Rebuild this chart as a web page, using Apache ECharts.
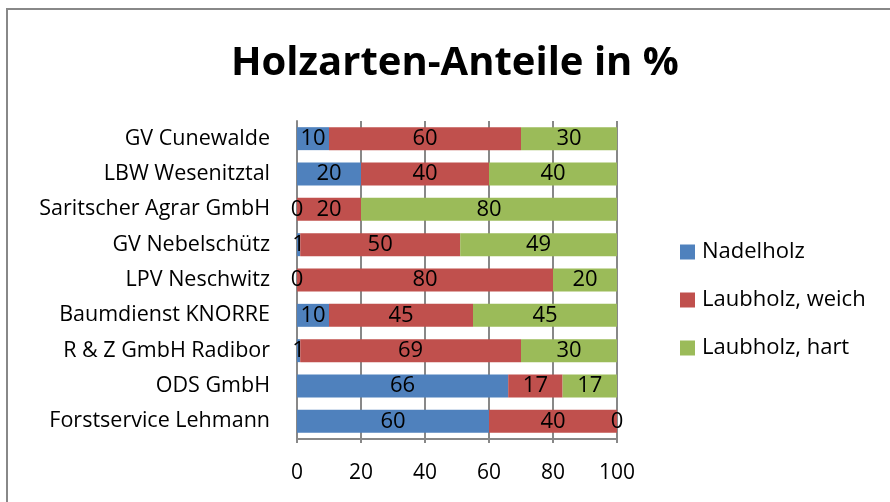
<!DOCTYPE html>
<html lang="de">
<head>
  <meta charset="UTF-8">
  <title>Holzarten-Anteile in %</title>
  <script src="https://cdn.jsdelivr.net/npm/echarts@6/dist/echarts.min.js"></script>
  <style>
    html, body { margin: 0; padding: 0; background: #fff; }
    #target { width: 890px; height: 502px; }
  </style>
</head>
<body>
  <div id="target"></div>
  <script>
    // top to bottom, as in the picture
    const categories = [
      'GV Cunewalde', 'LBW Wesenitztal', 'Saritscher Agrar GmbH', 'GV Nebelschütz',
      'LPV Neschwitz', 'Baumdienst KNORRE', 'R & Z GmbH Radibor', 'ODS GmbH',
      'Forstservice Lehmann'
    ];
    const nadelholz = [10, 20, 0, 1, 0, 10, 1, 66, 60];
    const laubWeich = [60, 40, 20, 50, 80, 45, 69, 17, 40];
    const laubHart = [30, 40, 80, 49, 20, 45, 30, 17, 0];
    const seriesNames = ['Nadelholz', 'Laubholz, weich', 'Laubholz, hart'];
    const colors = ['#4F81BD', '#C0504D', '#9BBB59'];

    const font = '"Open Sans", sans-serif';
    const makeSeries = (name, data, color) => ({
      name, type: 'bar', stack: 'total', data,
      barWidth: '65%',
      itemStyle: { color },
      label: { show: true, position: 'inside', color: '#000', fontFamily: font, fontSize: 22 }
    });

    const option = {
      animation: false,
      color: colors,
      title: {
        text: 'Holzarten-Anteile in %',
        left: 226, top: 39,
        textStyle: { fontFamily: font, fontWeight: 'bold', fontSize: 40, color: '#000' }
      },
      legend: {
        orient: 'vertical', left: 680, top: 241, padding: 0,
        itemWidth: 15, itemHeight: 15, itemGap: 26,
        icon: 'rect',
        textStyle: { fontFamily: font, fontSize: 22, color: '#000', padding: [0, 0, 0, 2] },
        data: seriesNames
      },
      grid: { left: 297, right: 273, top: 121, bottom: 63 },
      xAxis: {
        type: 'value', min: 0, max: 100, interval: 20,
        axisLine: { show: true, lineStyle: { color: '#888', width: 2 } },
        axisTick: { show: true, length: 4, lineStyle: { color: '#888', width: 2 } },
        splitLine: { show: true, lineStyle: { color: '#888', width: 2 } },
        axisLabel: { fontFamily: font, fontSize: 21, color: '#000', margin: 24 }
      },
      yAxis: {
        type: 'category', inverse: true, data: categories,
        axisLine: { show: true, lineStyle: { color: '#888', width: 2 } },
        axisTick: { show: false },
        axisLabel: { fontFamily: font, fontSize: 21.5, color: '#000', margin: 27 }
      },
      graphic: [{
        type: 'rect', silent: true,
        shape: { x: 7, y: 9, width: 900, height: 520 },
        style: { fill: null, stroke: '#888', lineWidth: 2 }
      }],
      series: [
        makeSeries(seriesNames[0], nadelholz, colors[0]),
        makeSeries(seriesNames[1], laubWeich, colors[1]),
        makeSeries(seriesNames[2], laubHart, colors[2])
      ]
    };
    echarts.init(document.getElementById('target')).setOption(option);
  </script>
</body>
</html>
